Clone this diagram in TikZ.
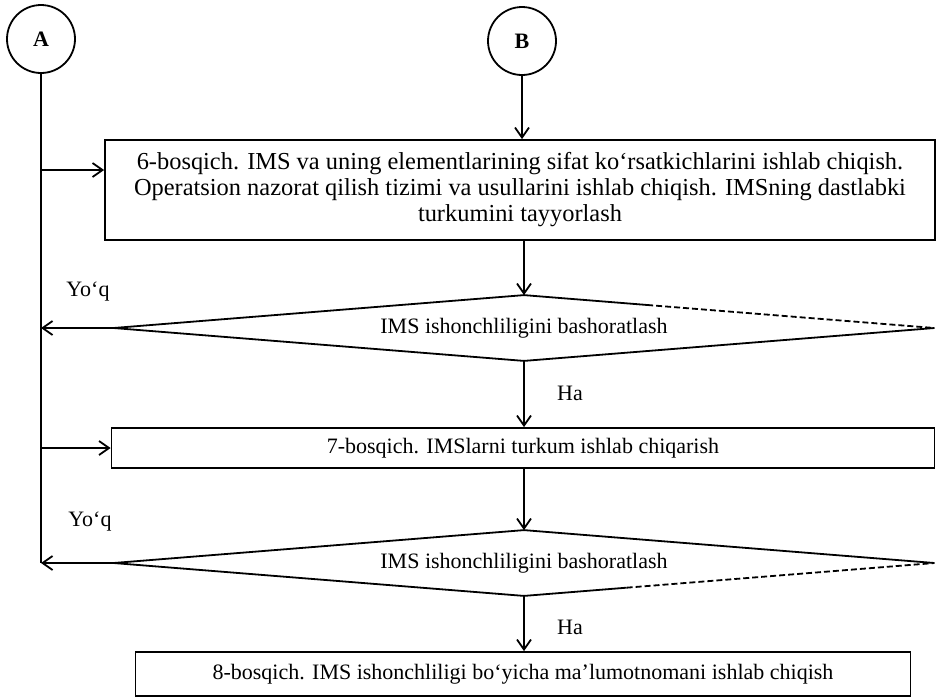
\documentclass[tikz,border=0pt]{standalone}
\usepackage{fontspec}
\setmainfont{Liberation Serif}
\usetikzlibrary{shapes.geometric,arrows.meta,calc}
\begin{document}
\begin{tikzpicture}[x=0.5pt,y=-0.5pt,every node/.append style={font=\fontsize{11}{13}\selectfont}]
        % Define styles
        \tikzset{
            connector/.style={circle, draw, line width=0.9pt, minimum size=34pt, inner sep=0pt, font=\fontsize{11}{13}\selectfont\bfseries},
            stage/.style={rectangle, draw, line width=0.9pt, align=center},
            decision/.style={diamond, aspect=12.6, minimum width=410pt, minimum height=32.5pt, inner sep=0pt},
            edge/.style={line width=0.9pt},
            arrow/.style={-{Straight Barb[length=5pt,width=7pt]}, line width=0.9pt}
        }
        \useasboundingbox (0,0) rectangle (937,698);

        % Nodes
        \node[connector] (A) at (41,39) {A};
        \node[connector] (B) at (522,41) {B};
        \node[stage, minimum width=415pt, minimum height=50pt, font=\fontsize{12.2}{13}\selectfont] (stage_6) at (520,190) {6-bosqich. IMS va uning elementlarining sifat ko‘rsatkichlarini ishlab chiqish.\\ Operatsion nazorat qilish tizimi va usullarini ishlab chiqish. IMSning dastlabki\\ turkumini tayyorlash};
        \node[decision] (check_1) at (524,328) {IMS ishonchliligini bashoratlash};
        \node[stage, minimum width=411.5pt, minimum height=20pt] (stage_7) at (523,448) {7-bosqich. IMSlarni turkum ishlab chiqarish};
        \node[decision] (check_2) at (524,563) {IMS ishonchliligini bashoratlash};
        \node[stage, minimum width=387.5pt, minimum height=22pt] (stage_8) at (523,674) {8-bosqich. IMS ishonchliligi bo‘yicha ma’lumotnomani ishlab chiqish};
        \node (no_1) at (88,292) {Yo‘q};
        \node (no_2) at (90,522) {Yo‘q};
        \node (yes_1) at (570,393) {Ha};
        \node (yes_2) at (570,627) {Ha};

        % Decision outlines
        \coordinate (dash_1) at ($(check_1.north)!0.3!(check_1.east)$);
        \coordinate (dash_2) at ($(check_2.south)!0.25!(check_2.east)$);
        \draw[edge] (dash_1) -- (check_1.north) -- (check_1.west) -- (check_1.south) -- (check_1.east);
        \draw[edge, dash pattern=on 3pt off 1.5pt] (dash_1) -- (check_1.east);
        \draw[edge] (dash_2) -- (check_2.south) -- (check_2.west) -- (check_2.north) -- (check_2.east);
        \draw[edge, dash pattern=on 3pt off 1.5pt] (dash_2) -- (check_2.east);

        % Arrows
        \draw[arrow] (B.south) -- (B.south |- stage_6.north);
        \draw[arrow] (stage_6.south -| check_1.north) -- (check_1.north);
        \draw[arrow] (check_1.south) -- (check_1.south |- stage_7.north);
        \draw[arrow] (stage_7.south -| check_2.north) -- (check_2.north);
        \draw[arrow] (check_2.south) -- (check_2.south |- stage_8.north);

        % Return line from A
        \coordinate (in_6) at ([yshift=10pt]stage_6.west);
        \draw[edge] (A.south) -- (A.south |- check_2.west);
        \draw[arrow] (A.south |- in_6) -- (in_6);
        \draw[arrow] (A.south |- stage_7.west) -- (stage_7.west);
        \draw[arrow] (check_1.west) -- (A.south |- check_1.west);
        \draw[arrow] (check_2.west) -- (A.south |- check_2.west);
\end{tikzpicture}
\end{document}
